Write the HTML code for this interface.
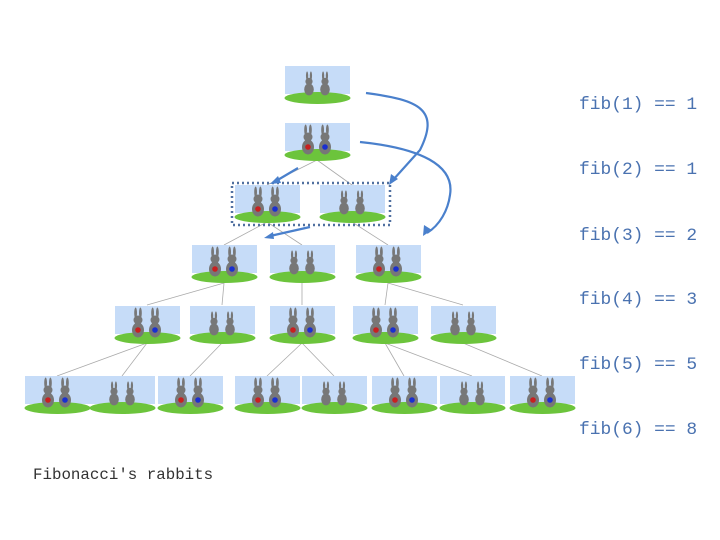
<!DOCTYPE html>
<html><head><meta charset="utf-8"><style>
body{margin:0;background:#fff;width:720px;height:540px;overflow:hidden}
.l{position:absolute;left:579px;font:17.9px "Liberation Mono",monospace;color:#4a72b0;}
</style></head><body>
<svg width="720" height="540" style="position:absolute;left:0;top:0">
<defs>
<g id="b">
<ellipse cx="0" cy="8" rx="6" ry="7.5" fill="#777"/>
<ellipse cx="0" cy="-2" rx="4.5" ry="4.5" fill="#777"/>
<ellipse cx="-2.4" cy="-9" rx="1.4" ry="5.5" fill="#777"/>
<ellipse cx="2.4" cy="-9" rx="1.4" ry="5.5" fill="#777"/>
</g>
<g id="S">
<rect x="0" y="0" width="65" height="28" fill="#c6dcf8"/>
<ellipse cx="32.5" cy="32" rx="33" ry="6" fill="#6cc43c"/>
<g transform="translate(24,17) scale(0.8)"><use href="#b"/></g>
<g transform="translate(40,17) scale(0.8)"><use href="#b"/></g>
</g>
<g id="M">
<rect x="0" y="0" width="65" height="28" fill="#c6dcf8"/>
<ellipse cx="32.5" cy="32" rx="33" ry="6" fill="#6cc43c"/>
<g transform="translate(23,16)"><use href="#b"/><circle cx="0" cy="8" r="2.8" fill="#c82020"/></g>
<g transform="translate(40,16)"><use href="#b"/><circle cx="0" cy="8" r="2.8" fill="#1a2fd0"/></g>
</g>
</defs>
<g stroke="#aaa" stroke-width="0.8" fill="none">
<path d="M317 160L267 185M317 160L352 185"/>
<path d="M267 222L224 245M267 222L302 245M352 222L388 245"/>
<path d="M224 283L147 305M224 283L222 305M302 283L302 305M388 283L385 305M388 283L463 305"/>
<path d="M147 343L57 376M147 343L122 376M222 343L190 376M302 343L267 376M302 343L334 376M385 343L404 376M385 343L472 376M463 343L542 376"/>
</g>
<use href="#S" x="285" y="66"/>
<use href="#M" x="285" y="123"/>
<use href="#M" x="235" y="185"/><use href="#S" x="320" y="185"/>
<use href="#M" x="192" y="245"/><use href="#S" x="270" y="245"/><use href="#M" x="356" y="245"/>
<use href="#M" x="115" y="306"/><use href="#S" x="190" y="306"/><use href="#M" x="270" y="306"/><use href="#M" x="353" y="306"/><use href="#S" x="431" y="306"/>
<use href="#M" x="25" y="376"/><use href="#S" x="90" y="376"/><use href="#M" x="158" y="376"/><use href="#M" x="235" y="376"/><use href="#S" x="302" y="376"/><use href="#M" x="372" y="376"/><use href="#S" x="440" y="376"/><use href="#M" x="510" y="376"/>
<rect x="232" y="183" width="158" height="42" fill="none" stroke="#5070a0" stroke-width="2.5" stroke-dasharray="2,3"/>
<g stroke="#4a80cc" stroke-width="2.2" fill="none">
<path d="M366 93C420 100 440 110 420 150L393 180"/>
<path d="M360 142C420 148 455 165 450 195C448 210 440 225 427 233"/>
<path d="M298 168L276 181"/>
<path d="M310 227L270 236"/>
</g>
<g fill="#4a80cc">
<path d="M389 185L391 174L398 179Z"/>
<path d="M423 236L424 225L432 230Z"/>
<path d="M270 184L278 176L281 183Z"/>
<path d="M264 238L273 232L274 239Z"/>
</g>
</svg>
<div class="l" style="top:95px">fib(1) == 1</div>
<div class="l" style="top:160px">fib(2) == 1</div>
<div class="l" style="top:226px">fib(3) == 2</div>
<div class="l" style="top:290px">fib(4) == 3</div>
<div class="l" style="top:355px">fib(5) == 5</div>
<div class="l" style="top:420px">fib(6) == 8</div>
<div style="position:absolute;left:33px;top:466px;font:15.8px 'Liberation Mono',monospace;color:#333">Fibonacci's rabbits</div>
</body></html>
